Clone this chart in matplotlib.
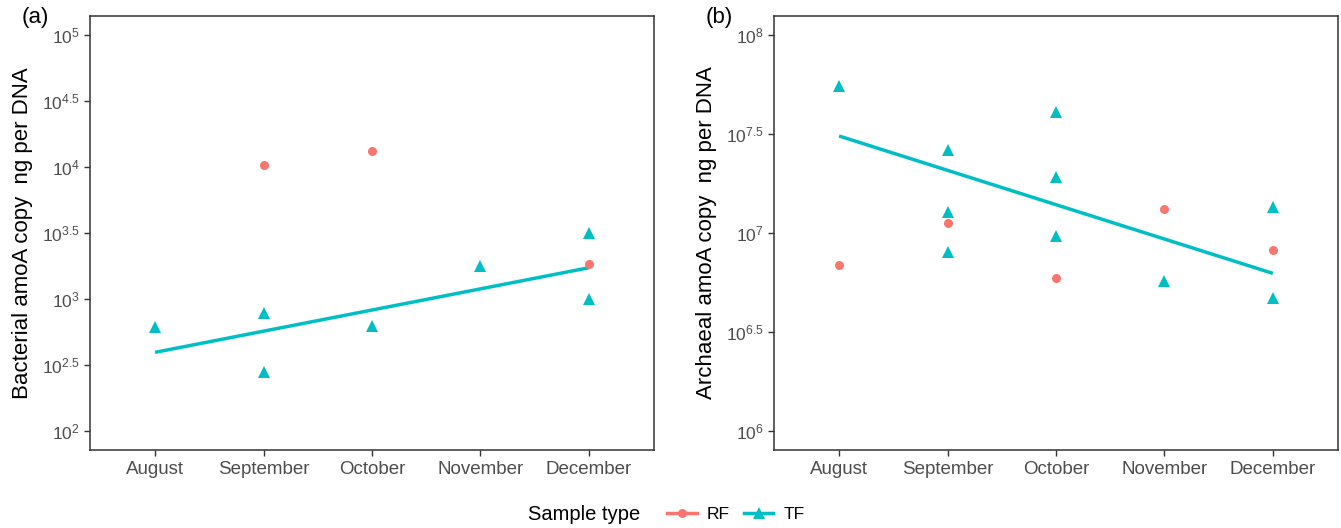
import matplotlib
matplotlib.use("Agg")
import matplotlib.pyplot as plt
from matplotlib.lines import Line2D
import numpy as np

plt.rcParams["font.family"] = ["Liberation Sans", "DejaVu Sans"]
plt.rcParams["mathtext.fontset"] = "custom"
plt.rcParams["mathtext.rm"] = "Liberation Sans"

months = ["August", "September", "October", "November", "December"]

# panel (a): bacterial amoA, log10 copies
bac_rf_month = [2, 3, 5]
bac_rf_log = [4.015, 4.12, 3.265]
bac_tf_month = [1, 2, 2, 3, 4, 5, 5]
bac_tf_log = [2.79, 2.893, 2.447, 2.797, 3.25, 3.502, 2.997]
bac_trend_month = [1, 5]
bac_trend_log = [2.596, 3.237]
bac_ticks = [2, 2.5, 3, 3.5, 4, 4.5, 5]

# panel (b): archaeal amoA, log10 copies
arc_rf_month = [1, 2, 3, 4, 5]
arc_rf_log = [6.838, 7.049, 6.774, 7.121, 6.914]
arc_tf_month = [1, 2, 2, 2, 3, 3, 3, 4, 5, 5]
arc_tf_log = [7.742, 7.419, 7.104, 6.906, 7.609, 7.281, 6.986, 6.759, 7.133, 6.673]
arc_trend_month = [1, 5]
arc_trend_log = [7.49, 6.796]
arc_ticks = [6, 6.5, 7, 7.5, 8]

RF_COL = "#F8766D"
TF_COL = "#00BFC4"
W, H = 1341, 528

fig = plt.figure(figsize=(W / 100, H / 100), dpi=100)


def tick_label(v):
    if float(v).is_integer():
        return r"$\mathregular{10^{%d}}$" % int(v)
    return r"$\mathregular{10^{%g}}$" % v


def draw_panel(left, ylim, ticks, rf_x, rf_y, tf_x, tf_y, tr_x, tr_y, ylabel, tag):
    ax = fig.add_axes([left / W, (H - 450) / H, 564 / W, 434 / H])
    ax.plot(tr_x, tr_y, color=TF_COL, lw=2.5, solid_capstyle="butt", zorder=2)
    ax.plot(rf_x, rf_y, "o", color=RF_COL, ms=6.5, mew=0, zorder=3)
    ax.plot(tf_x, tf_y, "^", color=TF_COL, ms=8, mew=0, zorder=3)
    ax.set_xlim(0.4, 5.6)
    ax.set_ylim(*ylim)
    ax.set_xticks(range(1, 6))
    ax.set_xticklabels(months)
    ax.set_yticks(ticks)
    ax.set_yticklabels([tick_label(t) for t in ticks])
    ax.tick_params(colors="#333333", labelcolor="#4D4D4D", labelsize=12.5,
                   length=4, width=1)
    ax.tick_params(axis="x", pad=4, labelsize=13.5)
    for s in ax.spines.values():
        s.set_color("#333333")
        s.set_linewidth(1.1)
    ax.set_ylabel(ylabel, fontsize=16, labelpad=6)
    fig.text((left - 68) / W, 1 - 18 / H, tag, fontsize=16, ha="left", va="center")
    return ax


draw_panel(90, (1.856, 5.144), bac_ticks, bac_rf_month, bac_rf_log,
           bac_tf_month, bac_tf_log, bac_trend_month, bac_trend_log,
           "Bacterial amoA copy  ng per DNA", "(a)")
draw_panel(774, (5.904, 8.096), arc_ticks, arc_rf_month, arc_rf_log,
           arc_tf_month, arc_tf_log, arc_trend_month, arc_trend_log,
           "Archaeal amoA copy  ng per DNA", "(b)")

fig.text(528 / W, 1 - 515 / H, "Sample type", fontsize=14.5, ha="left", va="center")
handles = [
    Line2D([], [], color=RF_COL, lw=2.5, marker="o", ms=6.5, mew=0),
    Line2D([], [], color=TF_COL, lw=2.5, marker="^", ms=8, mew=0),
]
fig.legend(handles, ["RF", "TF"], ncol=2, loc="center left",
           bbox_to_anchor=(667 / W, 1 - 514 / H), frameon=False, fontsize=12.5,
           handlelength=1.7, handletextpad=0.6, columnspacing=0.8,
           borderpad=0, borderaxespad=0)

fig.savefig("out.png", dpi=100, facecolor="white")
